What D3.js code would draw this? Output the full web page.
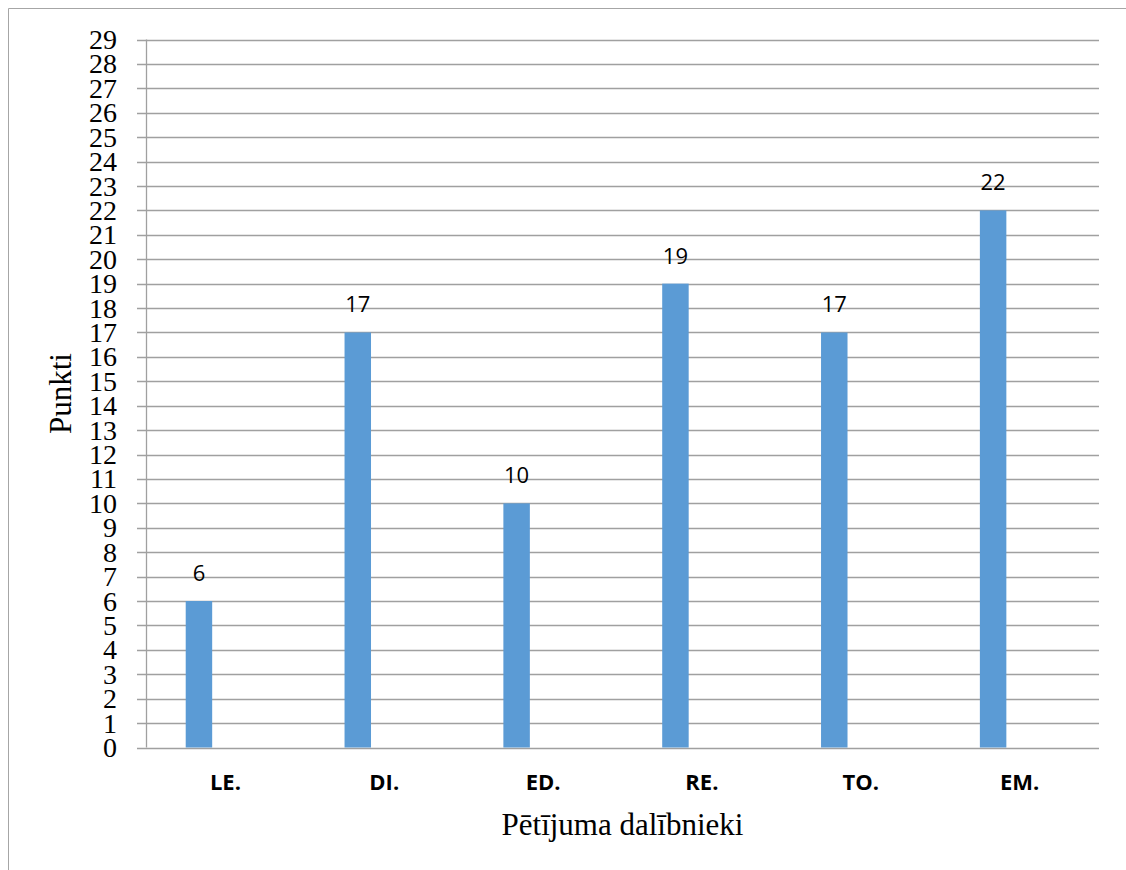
<!DOCTYPE html>
<html>
<head>
<meta charset="utf-8">
<script src="https://cdn.jsdelivr.net/npm/d3@7"></script>
<style>
  body { margin: 0; background: #fff; }
</style>
</head>
<body>
<div id="chart"></div>
<script>
const categories = ["LE.", "DI.", "ED.", "RE.", "TO.", "EM."];
const values = [6, 17, 10, 19, 17, 22];
// the original chart reserves room for three series per group, only the first has data
const seriesSlots = ["s1", "s2", "s3"];
const yTicks = d3.range(0, 30);

const W = 1126, H = 870;
const plot = { left: 146, right: 1099, top: 39.5, bottom: 747.5 };

const svg = d3.select("#chart")
  .append("svg")
  .attr("width", W)
  .attr("height", H);

// outer frame (only top and left edges are visible)
svg.append("path")
  .attr("d", `M8.5,${H} V8.5 H${W}`)
  .attr("fill", "none")
  .attr("stroke", "#a6a6a6")
  .attr("stroke-width", 1);

const x = d3.scaleBand().domain(categories).range([plot.left, plot.right]);
const xs = d3.scaleBand().domain(seriesSlots).range([0, x.bandwidth()]).paddingOuter(1.5);
const y = d3.scaleLinear().domain([0, 29]).range([plot.bottom, plot.top]);

// gridlines + tick marks
svg.append("g")
  .selectAll("line")
  .data(yTicks)
  .join("line")
  .attr("x1", plot.left - 9)
  .attr("x2", plot.right)
  .attr("y1", d => Math.round(y(d)) + 0.5)
  .attr("y2", d => Math.round(y(d)) + 0.5)
  .attr("stroke", "#a0a0a0")
  .attr("stroke-width", 1.3);

// y axis line
svg.append("line")
  .attr("x1", plot.left + 0.5).attr("x2", plot.left + 0.5)
  .attr("y1", plot.top).attr("y2", plot.bottom)
  .attr("stroke", "#a0a0a0")
  .attr("stroke-width", 1.3);

// y tick labels
svg.append("g")
  .selectAll("text")
  .data(yTicks)
  .join("text")
  .attr("x", 117)
  .attr("y", d => y(d))
  .attr("dy", "0.34em")
  .attr("text-anchor", "end")
  .attr("font-family", "'Liberation Serif', 'Times New Roman', serif")
  .attr("font-size", 28)
  .attr("fill", "#000")
  .text(d => d);

// bars
svg.append("g")
  .selectAll("rect")
  .data(values)
  .join("rect")
  .attr("x", (d, i) => x(categories[i]) + xs("s1"))
  .attr("width", xs.bandwidth())
  .attr("y", d => y(d))
  .attr("height", d => y(0) - y(d))
  .attr("fill", "#5b9bd5");

// value labels
svg.append("g")
  .selectAll("text")
  .data(values)
  .join("text")
  .attr("x", (d, i) => x(categories[i]) + xs("s1") + xs.bandwidth() / 2)
  .attr("y", d => y(d) - 20)
  .attr("text-anchor", "middle")
  .attr("font-family", "'Open Sans', sans-serif")
  .attr("font-size", 22)
  .attr("fill", "#000")
  .text(d => d);

// category labels
svg.append("g")
  .selectAll("text")
  .data(categories)
  .join("text")
  .attr("x", d => x(d) + x.bandwidth() / 2)
  .attr("y", 790)
  .attr("text-anchor", "middle")
  .attr("font-family", "'Open Sans', sans-serif")
  .attr("font-weight", "bold")
  .attr("font-size", 22)
  .attr("fill", "#000")
  .text(d => d);

// y title
svg.append("text")
  .attr("transform", `translate(71,${(plot.top + plot.bottom) / 2}) rotate(-90)`)
  .attr("text-anchor", "middle")
  .attr("font-family", "'Liberation Serif', 'Times New Roman', serif")
  .attr("font-size", 31)
  .attr("fill", "#000")
  .text("Punkti");

// x title
svg.append("text")
  .attr("x", (plot.left + plot.right) / 2)
  .attr("y", 835)
  .attr("text-anchor", "middle")
  .attr("font-family", "'Liberation Serif', 'Times New Roman', serif")
  .attr("font-size", 31)
  .attr("fill", "#000")
  .text("Pētījuma dalībnieki");
</script>
</body>
</html>
